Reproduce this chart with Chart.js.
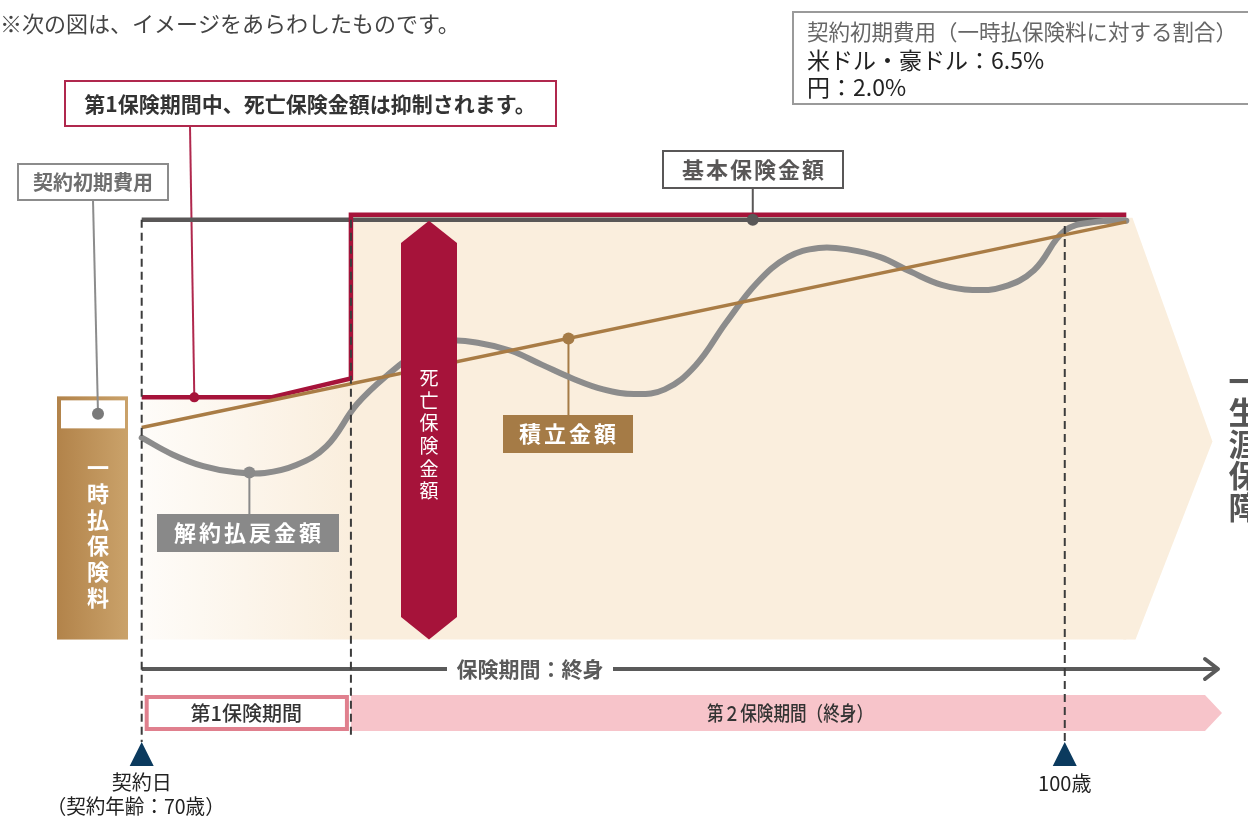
<!DOCTYPE html>
<html lang="ja">
<head>
<meta charset="utf-8">
<script src="https://cdn.jsdelivr.net/npm/chart.js@4"></script>
<style>
html,body{margin:0;padding:0;background:#fff;}
#wrap{width:1248px;height:816px;position:relative;}
</style>
</head>
<body>
<div id="wrap"><canvas id="diagram"></canvas></div>
<script>
// x = years after contract (契約年齢70歳 = 0), y = % of 基本保険金額
var waveYears  = [0, 1, 2, 3, 4, 5, 6, 7, 8, 9, 10, 11, 12, 13, 14, 15, 16, 17, 18, 19, 20, 21, 22, 23, 24, 25, 26, 27, 28, 29, 30, 31, 32];
var waveValues = [48.1, 44.1, 41.3, 39.9, 39.7, 41.5, 46.0, 56.1, 63.1, 68.5, 71.1, 70.6, 68.8, 65.5, 62.2, 59.6, 58.5, 59.6, 65.3, 75.6, 85.0, 91.1, 93.3, 92.9, 91.1, 87.6, 84.5, 83.3, 84.0, 88.0, 97.4, 99.5, 99.8];

var reserveYears  = [0, 32.0];
var reserveValues = [50.5, 99.5];

var deathYears  = [0, 4.2, 6.8, 6.8, 32.0];
var deathValues = [57.7, 57.7, 62.2, 101.2, 101.2];

var basicYears  = [0, 32.0];
var basicValues = [100, 100];

// arrow tip of the 一生涯保障 band
var coverYears  = [31.9, 32.2, 34.8, 32.3, 31.9];
var coverValues = [100.5, 100.5, 47.2, 0, 0];

// label anchors: 契約初期費用, 死亡保険金額(抑制), 解約払戻金額, 積立金額, 基本保険金額
var dotYears  = [-1.42, 1.71, 3.5, 13.87, 19.86];
var dotValues = [53.8, 57.7, 39.8, 71.7, 100];
var dotColors = ['#7a7a7a', '#a6133a', '#8a8a8a', '#a57b46', '#595757'];

var periodYears = [0, 6.8, 30];
var tickLabels  = ['契約日', '（契約年齢：70歳）', '100歳'];

var FONT = '"Noto Sans CJK JP", "Noto Sans", sans-serif';
var CRIMSON = '#a6133a';
var CREAM = '#faeedd';

function pts(xs, ys) {
  return xs.map(function(x, i){ return {x: x, y: ys[i]}; });
}

function txt(c, s, x, y, font, color, align, maxW, spacing) {
  c.save();
  c.font = font;
  c.fillStyle = color;
  c.textAlign = align || 'center';
  c.textBaseline = 'middle';
  c.letterSpacing = (spacing || 0) + 'px';
  if (maxW) c.fillText(s, x, y, maxW); else c.fillText(s, x, y);
  c.restore();
}

function vtxt(c, s, x, y0, step, font, color) {
  for (var i = 0; i < s.length; i++) txt(c, s[i], x, y0 + i * step, font, color);
}

function line(c, x1, y1, x2, y2, color, w) {
  c.save();
  c.strokeStyle = color; c.lineWidth = w;
  c.beginPath(); c.moveTo(x1, y1); c.lineTo(x2, y2); c.stroke();
  c.restore();
}

var decor = {
  id: 'decor',
  beforeDatasetsDraw: function(chart) {
    var c = chart.ctx;
    var X = function(v){ return chart.scales.x.getPixelForValue(v); };
    var Y = function(v){ return chart.scales.y.getPixelForValue(v); };

    // band tip
    c.fillStyle = CREAM;
    c.beginPath();
    coverYears.forEach(function(t, i){
      if (i === 0) c.moveTo(X(t), Y(coverValues[i])); else c.lineTo(X(t), Y(coverValues[i]));
    });
    c.closePath(); c.fill();

    // 一時払保険料 bar
    var g = c.createLinearGradient(57, 0, 128, 0);
    g.addColorStop(0, '#b2834a');
    g.addColorStop(1, '#caa26a');
    c.fillStyle = g;
    c.fillRect(57, Y(57.7) - 1, 71, Y(0) - Y(57.7) + 1);
    c.fillStyle = '#fff';
    c.fillRect(61, Y(57.7) + 3, 64, 28);
    vtxt(c, '一時払保険料', X(-1.42), 468, 26, 'bold 22px ' + FONT, '#fff');

    // connectors
    line(c, 93, 200, X(dotYears[0]), Y(dotValues[0]), '#8c8c8c', 2);
    line(c, 190, 126, X(dotYears[1]), Y(dotValues[1]), '#b0284d', 2);
    line(c, X(dotYears[2]), Y(dotValues[2]), X(dotYears[2]), 514, '#8a8a8a', 2);
    line(c, X(dotYears[3]), Y(dotValues[3]), X(dotYears[3]), 415, '#a57b46', 2);
    line(c, X(dotYears[4]), 188, X(dotYears[4]), Y(dotValues[4]), '#595757', 2);
  },
  afterDatasetsDraw: function(chart) {
    var c = chart.ctx;
    var X = function(v){ return chart.scales.x.getPixelForValue(v); };
    var Y = function(v){ return chart.scales.y.getPixelForValue(v); };
    var x0 = X(periodYears[0]), x1 = X(periodYears[1]), x2 = X(periodYears[2]);

    // 保険期間 bars
    c.fillStyle = '#f7c4ca';
    c.beginPath();
    c.moveTo(x1, 695); c.lineTo(1205, 695); c.lineTo(1222, 713);
    c.lineTo(1205, 731); c.lineTo(x1, 731); c.closePath(); c.fill();
    c.fillStyle = '#fff';
    c.fillRect(x0 + 3, 695, x1 - x0 - 5, 36);
    c.strokeStyle = '#e0808e'; c.lineWidth = 4;
    c.strokeRect(x0 + 5, 697, x1 - x0 - 9, 32);
    txt(c, '第1保険期間', (x0 + x1) / 2, 713, '500 20px ' + FONT, '#333');
    txt(c, '第２保険期間（終身）', 790, 713, '500 20px ' + FONT, '#333', 'center', 166);

    // 保険期間：終身 arrow
    line(c, x0, 669, 1217, 669, '#5a5a5a', 4);
    c.save();
    c.strokeStyle = '#5a5a5a'; c.lineWidth = 4; c.lineCap = 'round'; c.lineJoin = 'round';
    c.beginPath(); c.moveTo(1205, 659); c.lineTo(1218, 669); c.lineTo(1205, 679); c.stroke();
    c.restore();
    c.fillStyle = '#fff';
    c.fillRect(447, 655, 166, 28);
    txt(c, '保険期間：終身', 530, 669, 'bold 21px ' + FONT, '#5a5a5a');

    // dashed period lines
    c.save();
    c.strokeStyle = '#3c3c3c'; c.lineWidth = 2; c.setLineDash([8, 5]);
    c.beginPath();
    c.moveTo(x0, Y(100)); c.lineTo(x0, 742);
    c.moveTo(x1, Y(100)); c.lineTo(x1, 738);
    c.moveTo(x2, Y(98.5)); c.lineTo(x2, 742);
    c.stroke();
    c.restore();

    // age markers
    [x0, x2].forEach(function(x){
      c.fillStyle = '#0b3a5e';
      c.beginPath(); c.moveTo(x, 742); c.lineTo(x + 12, 766); c.lineTo(x - 12, 766); c.closePath(); c.fill();
    });
    txt(c, tickLabels[0], x0, 782, '20px ' + FONT, '#222');
    txt(c, tickLabels[1], x0 - 6, 806, '20px ' + FONT, '#222', 'center', 178);
    txt(c, tickLabels[2], x2, 783, '20px ' + FONT, '#222');

    // 死亡保険金額 double arrow
    var ax = 429;
    c.fillStyle = CRIMSON;
    c.beginPath();
    c.moveTo(ax, Y(99.8)); c.lineTo(ax + 28, 243); c.lineTo(ax + 28, 617);
    c.lineTo(ax, Y(0)); c.lineTo(ax - 28, 617); c.lineTo(ax - 28, 243);
    c.closePath(); c.fill();
    vtxt(c, '死亡保険金額', ax, 378, 22.6, '19px ' + FONT, '#fff');

    // label boxes
    c.fillStyle = '#fff';
    c.fillRect(65, 81, 491, 45);
    c.strokeStyle = '#b0284d'; c.lineWidth = 2;
    c.strokeRect(65, 81, 491, 45);
    txt(c, '第1保険期間中、死亡保険金額は抑制されます。', 310, 104, 'bold 21px ' + FONT, '#333', 'center', 466);

    c.fillStyle = '#fff';
    c.fillRect(18, 164, 150, 36);
    c.strokeStyle = '#8c8c8c'; c.strokeRect(18, 164, 150, 36);
    txt(c, '契約初期費用', 93, 182, 'bold 20px ' + FONT, '#6e6e6e');

    c.fillStyle = '#fff';
    c.fillRect(663, 151, 180, 37);
    c.strokeStyle = '#595757'; c.strokeRect(663, 151, 180, 37);
    txt(c, '基本保険金額', 754, 170, 'bold 22px ' + FONT, '#595757', 'center', 0, 2);

    c.fillStyle = '#a57b46';
    c.fillRect(503, 415, 130, 38);
    txt(c, '積立金額', 569, 434, 'bold 22px ' + FONT, '#fff', 'center', 0, 3);

    c.fillStyle = '#898989';
    c.fillRect(157, 514, 182, 38);
    txt(c, '解約払戻金額', 249, 533, 'bold 22px ' + FONT, '#fff', 'center', 0, 3);

    // 一生涯保障
    vtxt(c, '一生涯保障', 1244, 381, 31.5, 'bold 31px ' + FONT, '#555');

    // header notes
    txt(c, '※次の図は、イメージをあらわしたものです。', 0, 24, '22px ' + FONT, '#444', 'left');
    c.strokeStyle = '#9a9a9a'; c.lineWidth = 2;
    c.strokeRect(793, 12, 470, 92);
    txt(c, '契約初期費用（一時払保険料に対する割合）', 807, 32, '21.5px ' + FONT, '#666', 'left');
    txt(c, '米ドル・豪ドル：6.5%', 807, 60, '23px ' + FONT, '#222', 'left');
    txt(c, '円：2.0%', 807, 87, '23px ' + FONT, '#222', 'left');
  }
};

new Chart(document.getElementById('diagram'), {
  type: 'line',
  data: {
    datasets: [
      {
        label: 'dots',
        data: pts(dotYears, dotValues),
        showLine: false,
        pointRadius: [6, 5, 6, 6, 6],
        pointBackgroundColor: dotColors,
        pointBorderWidth: 0,
        order: 0
      },
      {
        label: '積立金額',
        data: pts(reserveYears, reserveValues),
        borderColor: '#a97c45',
        borderWidth: 3.5,
        pointRadius: 0,
        order: 1
      },
      {
        label: '解約払戻金額',
        data: pts(waveYears, waveValues),
        borderColor: '#8c8c8c',
        borderWidth: 6,
        borderCapStyle: 'round',
        borderJoinStyle: 'round',
        tension: 0.4,
        pointRadius: 0,
        order: 2
      },
      {
        label: '死亡保険金額',
        data: pts(deathYears, deathValues),
        borderColor: CRIMSON,
        borderWidth: 4.5,
        borderJoinStyle: 'miter',
        tension: 0,
        pointRadius: 0,
        fill: {value: 0},
        backgroundColor: function(ctx) {
          var ch = ctx.chart;
          if (!ch.chartArea) return CREAM;
          var xs = ch.scales.x;
          var g = ch.ctx.createLinearGradient(xs.getPixelForValue(0), 0, xs.getPixelForValue(periodYears[1]), 0);
          g.addColorStop(0, '#fefcf9');
          g.addColorStop(1, CREAM);
          return g;
        },
        order: 3
      },
      {
        label: '基本保険金額',
        data: pts(basicYears, basicValues),
        borderColor: '#595757',
        borderWidth: 4.5,
        pointRadius: 0,
        order: 4
      }
    ]
  },
  options: {
    responsive: true,
    maintainAspectRatio: false,
    animation: false,
    layout: {padding: 0},
    scales: {
      x: {type: 'linear', min: -4.41, max: 35.76, display: false},
      y: {min: -40.61, max: 150.94, display: false}
    },
    plugins: {
      legend: {display: false},
      tooltip: {enabled: false},
      filler: {drawTime: 'beforeDatasetsDraw'}
    }
  },
  plugins: [decor]
});
</script>
</body>
</html>
